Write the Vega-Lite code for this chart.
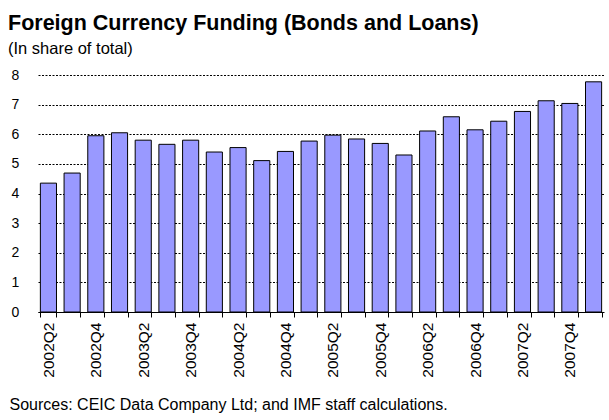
{
  "$schema": "https://vega.github.io/schema/vega-lite/v6.json",
  "width": 566,
  "height": 237,
  "autosize": {"type": "none"},
  "padding": {"left": 38, "top": 75, "right": 5, "bottom": 108},
  "background": "white",
  "title": {
    "text": "Foreign Currency Funding (Bonds and Loans)",
    "subtitle": "(In share of total)",
    "anchor": "start",
    "frame": "group",
    "dx": -30,
    "offset": 11,
    "font": "Liberation Sans",
    "fontSize": 21.5,
    "fontWeight": "bold",
    "color": "black",
    "subtitleFont": "Liberation Sans",
    "subtitleFontSize": 16.5,
    "subtitleColor": "black",
    "subtitlePadding": 6
  },
  "data": {
    "values": [
      {"q": "2002Q2", "v": 4.35},
      {"q": "2002Q3", "v": 4.69},
      {"q": "2002Q4", "v": 5.95},
      {"q": "2003Q1", "v": 6.05},
      {"q": "2003Q2", "v": 5.80},
      {"q": "2003Q3", "v": 5.66},
      {"q": "2003Q4", "v": 5.80},
      {"q": "2004Q1", "v": 5.40},
      {"q": "2004Q2", "v": 5.55},
      {"q": "2004Q3", "v": 5.11},
      {"q": "2004Q4", "v": 5.42},
      {"q": "2005Q1", "v": 5.77},
      {"q": "2005Q2", "v": 5.97},
      {"q": "2005Q3", "v": 5.84},
      {"q": "2005Q4", "v": 5.69},
      {"q": "2006Q1", "v": 5.30},
      {"q": "2006Q2", "v": 6.11},
      {"q": "2006Q3", "v": 6.59},
      {"q": "2006Q4", "v": 6.15},
      {"q": "2007Q1", "v": 6.44},
      {"q": "2007Q2", "v": 6.77},
      {"q": "2007Q3", "v": 7.13},
      {"q": "2007Q4", "v": 7.04},
      {"q": "2008Q1", "v": 7.77}
    ]
  },
  "mark": {"type": "bar", "fill": "#9999FF", "stroke": "#000000", "strokeWidth": 1},
  "encoding": {
    "x": {
      "field": "q",
      "type": "ordinal",
      "sort": null,
      "scale": {"paddingInner": 0.32, "paddingOuter": 0.1},
      "axis": {
        "title": "Sources: CEIC Data Company Ltd; and IMF staff calculations.",
        "titleFont": "Liberation Sans",
        "titleFontSize": 16,
        "titleFontWeight": "normal",
        "titleColor": "black",
        "titleAnchor": "start",
        "titleAlign": "left",
        "titleX": -29,
        "titleY": 92,
        "titleBaseline": "middle",
        "labelAngle": 270,
        "labelFont": "Liberation Sans",
        "labelFontSize": 15.5,
        "labelColor": "black",
        "labelPadding": 5,
        "labelExpr": "(indexof(datum.label, 'Q1') >= 0 || indexof(datum.label, 'Q3') >= 0) ? '' : datum.label",
        "tickBand": "extent",
        "ticks": true,
        "tickSize": 5,
        "tickColor": "black",
        "domainColor": "black",
        "domainWidth": 1,
        "grid": false
      }
    },
    "y": {
      "field": "v",
      "type": "quantitative",
      "scale": {"domain": [0, 8], "nice": false},
      "axis": {
        "title": null,
        "values": [0, 1, 2, 3, 4, 5, 6, 7, 8],
        "domain": false,
        "ticks": false,
        "labelAlign": "left",
        "labelPadding": 27,
        "labelFont": "Liberation Sans",
        "labelFontSize": 14,
        "labelColor": "black",
        "grid": true,
        "gridColor": "black",
        "gridDash": [2, 1.5],
        "gridWidth": 1,
        "gridOpacity": 1
      }
    }
  },
  "config": {"view": {"stroke": null}}
}
